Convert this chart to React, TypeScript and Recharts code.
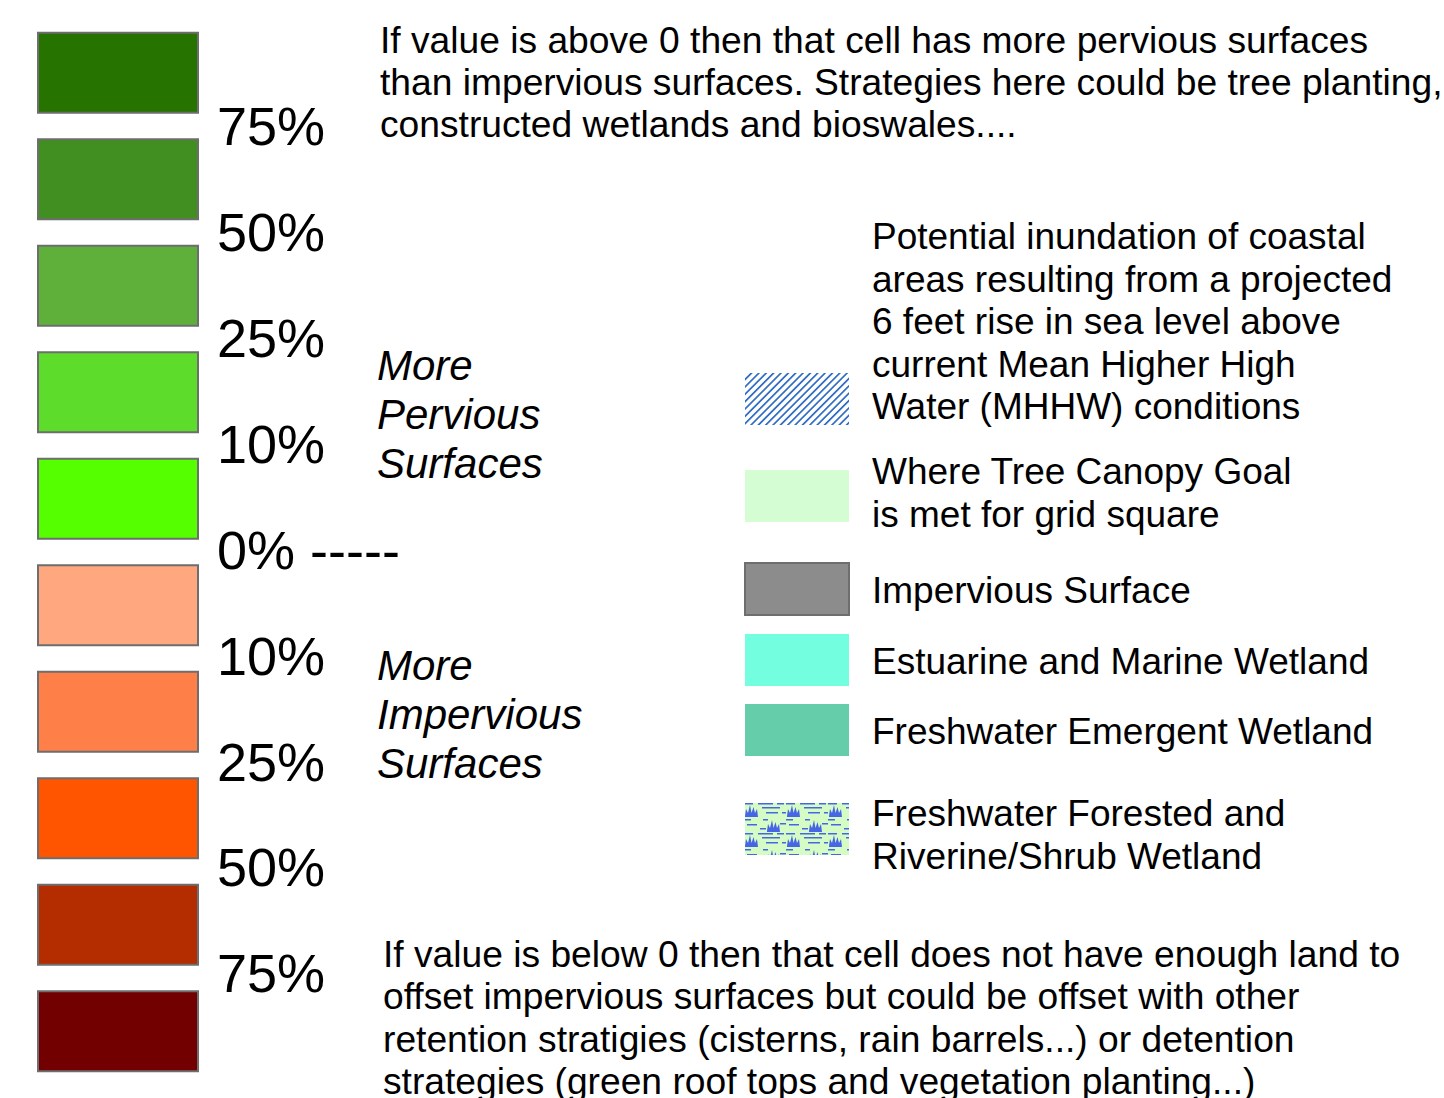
import React from "react";
import { BarChart, Bar, XAxis, YAxis, Cell, LabelList } from "recharts";

const FONT = "'Liberation Sans', Arial, Helvetica, sans-serif";

// colour ramp, from most pervious (top) to most impervious (bottom)
const rampClasses = ["p75", "p50", "p25", "p10", "p0", "n10", "n25", "n50", "n75", "n100"];
const rampColors = [
  "#267300", "#428f21", "#5fb03b", "#5ddc2b", "#55ff00",
  "#ffa77f", "#ff7f49", "#ff5500", "#b32d00", "#730000",
];
const rampValues = [1, 1, 1, 1, 1, 1, 1, 1, 1, 1];
// class breaks shown between the swatches
const breakLabels = ["75%", "50%", "25%", "10%", "0% -----", "10%", "25%", "50%", "75%"];

// map layers on the right
const layerNames = ["inundation", "canopy", "impervious", "estuarine", "emergent", "forested"];
const layerFills = ["url(#hatch)", "#d4fdd4", "#8c8c8c", "#73ffdf", "#66cdab", "url(#forested)"];
const layerStrokes = ["", "", "#6e6e6e", "", "", ""];
const layerLabels = [
  [
    "Potential inundation of coastal",
    "areas resulting from a projected",
    "6 feet rise in sea level above",
    "current Mean Higher High",
    "Water (MHHW) conditions",
  ],
  ["Where Tree Canopy Goal", "is met for grid square"],
  ["Impervious Surface"],
  ["Estuarine and Marine Wetland"],
  ["Freshwater Emergent Wetland"],
  ["Freshwater Forested and", "Riverine/Shrub Wetland"],
];

const aboveNote = [
  "If value is above 0 then that cell has more pervious surfaces",
  "than impervious surfaces. Strategies here could be tree planting,",
  "constructed wetlands and bioswales....",
];
const belowNote = [
  "If value is below 0 then that cell does not have enough land to",
  "offset impervious surfaces but could be offset with other",
  "retention stratigies (cisterns, rain barrels...) or detention",
  "strategies (green roof tops and vegetation planting...)",
];
const perviousNote = ["More", "Pervious", "Surfaces"];
const imperviousNote = ["More", "Impervious", "Surfaces"];

// layout (px)
const swatchTops = [373, 470, 563, 634, 704, 803];
const labelBaselines = [249, 484, 603, 674, 744, 826];
const LINE = 42.6;
const GAP = 26.5;

const rampData = rampClasses.map((name, i) => ({ name, value: rampValues[i] }));

const renderBreak = (props: any) => {
  const { x, y, width, height, index } = props;
  if (index >= breakLabels.length) return null;
  const mid = Number(y) + Number(height) + GAP / 2;
  return (
    <text
      x={Number(x) + Number(width) + 19}
      y={mid + 19.5 - 0.65 * index}
      fontFamily={FONT}
      fontSize={54}
      fill="#000"
    >
      {breakLabels[index]}
    </text>
  );
};

const Patterns = () => (
  <defs>
    <pattern id="hatch" patternUnits="userSpaceOnUse" width="5.2" height="5.2" patternTransform="rotate(45)">
      <rect width="5.2" height="5.2" fill="#ffffff" />
      <rect x="0" y="0" width="1.7" height="5.2" fill="#2f6cc4" />
    </pattern>
    <pattern id="forested" patternUnits="userSpaceOnUse" width="42" height="30">
      <rect width="42" height="30" fill="#d6fcc6" />
      <g fill="#4766e5">
        <rect x="0" y="1" width="9" height="1.5" />
        <rect x="14" y="1" width="15" height="1.5" />
        <rect x="33" y="1" width="7" height="1.5" />
        <rect x="18" y="5" width="18" height="1.5" />
        <rect x="22" y="10" width="12" height="1.5" />
        <rect x="38" y="10" width="4" height="1.5" />
        <rect x="0" y="17" width="7" height="1.5" />
        <rect x="19" y="17" width="5" height="1.5" />
        <rect x="3" y="22" width="10" height="1.5" />
        <rect x="16" y="26" width="6" height="1.5" />
        <rect x="36" y="21" width="6" height="1.5" />
        <path d="M1 14 L2 7 L4 11 L6 3 L7.5 11 L9.5 5 L11 11 L13 7 L14 15 L1 15 Z" />
        <path d="M23 29 L24 22 L26 26 L28 18 L29.5 26 L31.5 20 L33 26 L35 22 L36 30 L23 30 Z" />
      </g>
    </pattern>
  </defs>
);

const Swatch = ({ i }: { i: number }) => {
  const stroke = layerStrokes[i];
  return (
    <BarChart
      width={106}
      height={54}
      data={[{ name: layerNames[i], value: 1 }]}
      layout="vertical"
      barCategoryGap={0}
      margin={{ top: 1, right: 1, bottom: 1, left: 1 }}
    >
      <Patterns />
      <XAxis type="number" domain={[0, 1]} hide height={0} />
      <YAxis type="category" dataKey="name" hide width={0} />
      <Bar
        dataKey="value"
        fill={layerFills[i]}
        stroke={stroke || "none"}
        strokeWidth={stroke ? 2 : 0}
        isAnimationActive={false}
      />
    </BarChart>
  );
};

const Lines = ({ lines, x, y, size, step, italic }: any) => (
  <>
    {lines.map((t: string, k: number) => (
      <text
        key={k}
        x={x}
        y={y + k * step}
        fontFamily={FONT}
        fontSize={size}
        fontStyle={italic ? "italic" : "normal"}
        fill="#000"
      >
        {t}
      </text>
    ))}
  </>
);

export default function App() {
  return (
    <div style={{ position: "absolute", left: 0, top: 0, width: 1444, height: 1098, background: "#fff", overflow: "hidden" }}>
      <div style={{ position: "absolute", left: 0, top: 0 }}>
        <BarChart
          width={440}
          height={1098}
          data={rampData}
          layout="vertical"
          margin={{ top: 19.7, right: 242, bottom: 13.3, left: 38 }}
        >
          <XAxis type="number" domain={[0, 1]} hide height={0} />
          <YAxis type="category" dataKey="name" hide width={0} />
          <Bar dataKey="value" barSize={80} stroke="#6e6e6e" strokeWidth={2} isAnimationActive={false}>
            {rampData.map((d, i) => (
              <Cell key={d.name} fill={rampColors[i]} />
            ))}
            <LabelList dataKey="value" content={renderBreak} />
          </Bar>
        </BarChart>
      </div>

      {layerNames.map((n, i) => (
        <div key={n} style={{ position: "absolute", left: 744, top: swatchTops[i] - 1 }}>
          <Swatch i={i} />
        </div>
      ))}

      <svg width={1444} height={1098} style={{ position: "absolute", left: 0, top: 0, pointerEvents: "none" }}>
        <Lines lines={aboveNote} x={380} y={53} size={37.2} step={42} />
        <Lines lines={belowNote} x={383} y={967} size={37.2} step={42.3} />
        <Lines lines={perviousNote} x={377} y={380} size={42} step={49} italic />
        <Lines lines={imperviousNote} x={377} y={680} size={42} step={49} italic />
        {layerLabels.map((lines, i) => (
          <Lines key={i} lines={lines} x={872} y={labelBaselines[i]} size={37} step={LINE} />
        ))}
      </svg>
    </div>
  );
}
